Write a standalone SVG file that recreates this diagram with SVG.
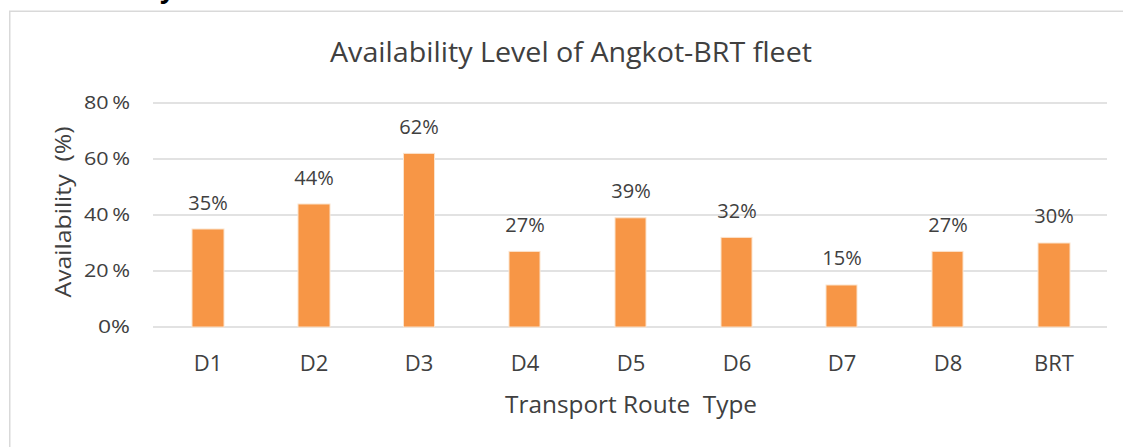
<svg xmlns="http://www.w3.org/2000/svg" width="1123" height="447" viewBox="0 0 1123 447">
<style>
text{font-family:"Open Sans","Noto Sans","Liberation Sans",sans-serif;fill:#404040}
.grid{stroke:#d9d9d9;stroke-width:1.5}
.bar{fill:#f79646;stroke:#fbe3cc;stroke-width:1}
.tick{font-size:19px;text-anchor:end}
.cat{font-size:22px;text-anchor:middle}
.val{font-size:20px;text-anchor:middle}
</style>
<rect width="1123" height="447" fill="#ffffff"/>
<text x="160" y="-2" style="font-size:26px;font-weight:bold;fill:#000">y</text>
<rect x="9.75" y="11.25" width="1130" height="450" fill="none" stroke="#d9d9d9" stroke-width="1.5"/>
<text id="title" x="571" y="62" text-anchor="middle" style="font-size:28px" textLength="482" lengthAdjust="spacingAndGlyphs">Availability Level of Angkot-BRT fleet</text>
<g id="gridlines">
<line class="grid" x1="153" y1="103" x2="1107" y2="103"/>
<line class="grid" x1="153" y1="159" x2="1107" y2="159"/>
<line class="grid" x1="153" y1="215" x2="1107" y2="215"/>
<line class="grid" x1="153" y1="271" x2="1107" y2="271"/>
<line class="grid" x1="153" y1="327" x2="1107" y2="327"/>
</g>
<g id="yticks">
<text class="tick" x="130" y="109" textLength="46" lengthAdjust="spacingAndGlyphs">80&#8201;%</text>
<text class="tick" x="130" y="165" textLength="46" lengthAdjust="spacingAndGlyphs">60&#8201;%</text>
<text class="tick" x="130" y="221" textLength="46" lengthAdjust="spacingAndGlyphs">40&#8201;%</text>
<text class="tick" x="130" y="277" textLength="46" lengthAdjust="spacingAndGlyphs">20&#8201;%</text>
<text class="tick" x="130" y="333" textLength="32" lengthAdjust="spacingAndGlyphs">0%</text>
</g>
<text id="ytitle" transform="translate(71,212) rotate(-90)" text-anchor="middle" style="font-size:22px" textLength="171" lengthAdjust="spacingAndGlyphs">Availability&#160; (%)</text>
<g id="bars">
<rect class="bar" x="192" y="229" width="32" height="98"/>
<rect class="bar" x="298" y="204" width="32" height="123"/>
<rect class="bar" x="403.5" y="153.4" width="31" height="173.6"/>
<rect class="bar" x="509" y="251.4" width="31" height="75.6"/>
<rect class="bar" x="615" y="217.8" width="31" height="109.2"/>
<rect class="bar" x="721" y="237.4" width="31" height="89.6"/>
<rect class="bar" x="826" y="285" width="31" height="42"/>
<rect class="bar" x="932" y="251.4" width="31" height="75.6"/>
<rect class="bar" x="1038" y="243" width="32" height="84"/>
</g>
<g id="values">
<text class="val" x="208" y="210">35%</text>
<text class="val" x="314" y="185">44%</text>
<text class="val" x="419" y="134">62%</text>
<text class="val" x="525" y="232">27%</text>
<text class="val" x="631" y="198">39%</text>
<text class="val" x="737" y="218">32%</text>
<text class="val" x="842" y="265">15%</text>
<text class="val" x="948" y="232">27%</text>
<text class="val" x="1054" y="223">30%</text>
</g>
<g id="categories">
<text class="cat" x="208" y="371">D1</text>
<text class="cat" x="314" y="371">D2</text>
<text class="cat" x="419" y="371">D3</text>
<text class="cat" x="525" y="371">D4</text>
<text class="cat" x="631" y="371">D5</text>
<text class="cat" x="737" y="371">D6</text>
<text class="cat" x="842" y="371">D7</text>
<text class="cat" x="948" y="371">D8</text>
<text class="cat" x="1054" y="371">BRT</text>
</g>
<text id="xtitle" x="631" y="413" text-anchor="middle" style="font-size:24px" textLength="252" lengthAdjust="spacingAndGlyphs">Transport Route&#160; Type</text>
</svg>
